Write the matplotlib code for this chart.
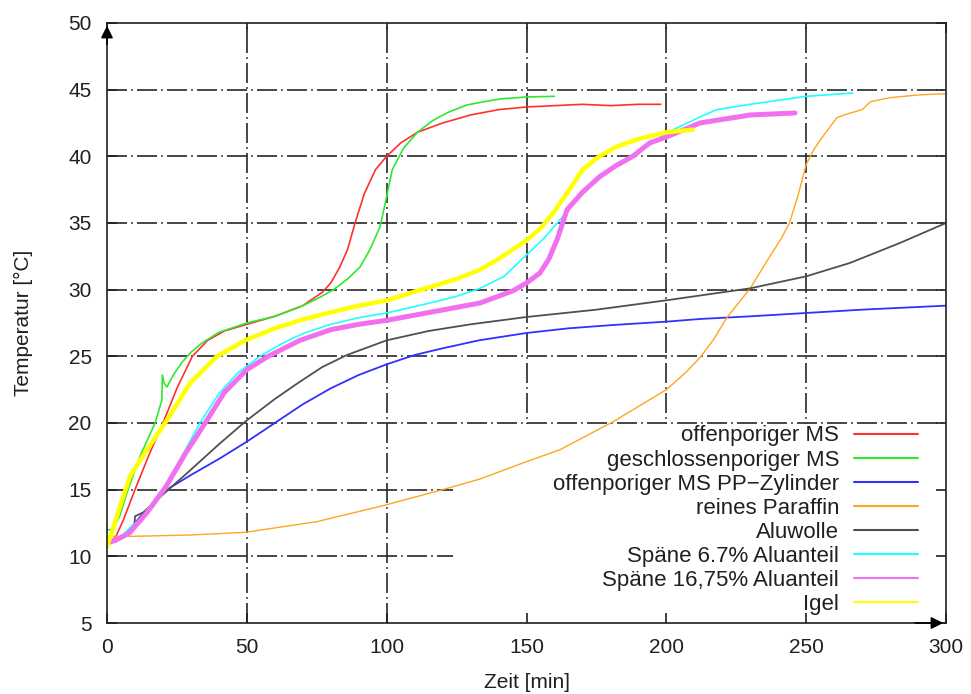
import matplotlib
matplotlib.use("Agg")
import matplotlib.pyplot as plt
from matplotlib.patches import Rectangle

plt.rcParams['font.family'] = ['Liberation Sans', 'DejaVu Sans']

# --- data (time in min, temperature in deg C) ---
labels = ["offenporiger MS", "geschlossenporiger MS", "offenporiger MS PP\u2212Zylinder",
          "reines Paraffin", "Aluwolle", "Späne 6.7% Aluanteil",
          "Späne 16,75% Aluanteil", "Igel"]

t_offen = [0, 3, 6, 10, 15, 20, 25, 30.5, 36, 42, 50, 60, 70, 77, 80, 83, 86, 88.7, 92, 96,
           100, 105, 111, 120, 130, 140, 150, 160, 170, 180, 190, 198]
T_offen = [11.0, 11.4, 12.8, 15.0, 17.6, 20.0, 22.6, 25.0, 26.2, 26.9, 27.4, 28.0, 28.8,
           29.8, 30.5, 31.6, 33.0, 35.0, 37.2, 39.0, 40.0, 41.0, 41.8, 42.5, 43.1, 43.5, 43.7,
           43.8, 43.9, 43.8, 43.9, 43.9]

t_geschl = [0, 2, 4.5, 7.5, 12, 17.2, 19.6, 19.8, 20.4, 21.4, 24, 27, 30, 34, 40, 50, 60,
            69, 75, 81, 86, 90.5, 94, 97.6, 99.4, 102, 106, 111, 116.6, 122, 128.6, 135,
            140.5, 150, 160]
T_geschl = [12.0, 12.0, 13.0, 15.0, 17.6, 20.0, 21.7, 23.6, 23.0, 22.7, 23.7, 24.6, 25.3,
            26.0, 26.8, 27.5, 28.0, 28.7, 29.3, 30.0, 30.8, 31.7, 33.0, 34.7, 36.4, 39.0,
            40.6, 41.8, 42.7, 43.3, 43.85, 44.1, 44.3, 44.45, 44.5]

t_pp = [0, 3, 7, 12, 21.4, 30, 40, 50, 60, 70, 80, 90, 100, 110, 120, 133, 150,
        165, 181, 200, 212, 230, 250, 270, 300]
T_pp = [11.0, 11.1, 11.75, 13.0, 15.0, 16.1, 17.3, 18.6, 20.0, 21.4, 22.6, 23.6, 24.4,
        25.1, 25.6, 26.2, 26.75, 27.1, 27.35, 27.6, 27.8, 28.0, 28.25, 28.5, 28.8]

t_paraffin = [0, 9.3, 30, 49.4, 75, 98.7, 120, 133.4, 150, 162, 181, 200, 207, 212, 217,
              221.6, 230, 237, 241, 244, 247, 250, 253, 256, 261, 265, 270, 273, 280, 290, 300]
T_paraffin = [11.5, 11.5, 11.6, 11.8, 12.6, 13.8, 15.0, 15.8, 17.1, 18.0, 20.1, 22.5, 23.8,
              24.9, 26.3, 27.9, 30.1, 32.5, 33.8, 35.0, 37.0, 39.4, 40.6, 41.5, 42.9, 43.2,
              43.5, 44.1, 44.4, 44.6, 44.7]

t_alu = [0, 5, 9.8, 10, 13, 19, 30, 40, 49.4, 60, 69, 77, 85.8, 100, 115, 130, 150, 175,
         200, 230, 250, 265.6, 283.5, 300]
T_alu = [11.0, 11.3, 12.3, 13.0, 13.3, 14.45, 16.5, 18.4, 20.1, 21.8, 23.1, 24.2, 25.1,
         26.2, 26.9, 27.4, 27.95, 28.5, 29.2, 30.1, 31.0, 32.0, 33.5, 35.0]

t_sp67 = [0, 4, 9, 14, 20, 26, 33.2, 40, 47, 54.7, 62, 70, 80, 90, 100, 115.5, 125, 133.4,
          142, 150, 156, 161, 170, 180, 188, 200, 212, 218, 230, 250, 266.7]
T_sp67 = [11.0, 11.3, 12.3, 13.2, 15.0, 17.2, 20.0, 22.2, 23.8, 25.0, 25.9, 26.7, 27.4,
          27.9, 28.25, 29.0, 29.5, 30.1, 31.0, 32.6, 33.8, 35.0, 37.25, 39.0, 40.0, 41.75,
          42.95, 43.5, 43.9, 44.5, 44.75]

t_sp1675 = [0, 3, 8, 14, 21, 28, 35.7, 42, 50, 57.6, 69, 80, 90, 100, 115.5, 133.4, 145,
            150, 154.8, 158, 161, 164.5, 170, 176, 182, 188, 194, 200, 212, 230, 246]
T_sp1675 = [11.0, 11.2, 11.75, 13.2, 15.2, 17.7, 20.2, 22.3, 24.0, 25.0, 26.2, 27.0, 27.4,
            27.7, 28.3, 29.0, 29.9, 30.5, 31.25, 32.3, 33.8, 36.0, 37.3, 38.45, 39.3, 40.0,
            41.0, 41.45, 42.5, 43.1, 43.25]

t_igel = [0, 2, 4.6, 8.2, 14.3, 21.4, 29.7, 39.3, 49.4, 60, 69, 80, 90, 100, 115.5, 125,
          133.4, 140, 145, 150, 155, 159.5, 165, 170, 176, 182, 190, 200, 209.5]
T_igel = [10.7, 12.0, 13.7, 16.0, 18.0, 20.2, 23.0, 25.0, 26.2, 27.1, 27.7, 28.3, 28.8,
          29.2, 30.2, 30.8, 31.5, 32.3, 33.0, 33.7, 34.6, 35.75, 37.4, 39.0, 40.0, 40.7,
          41.3, 41.8, 42.0]

xticks = [0, 50, 100, 150, 200, 250, 300]
yticks = [5, 10, 15, 20, 25, 30, 35, 40, 45, 50]

series = [(t_offen, T_offen), (t_geschl, T_geschl), (t_pp, T_pp), (t_paraffin, T_paraffin),
          (t_alu, T_alu), (t_sp67, T_sp67), (t_sp1675, T_sp1675), (t_igel, T_igel)]
colors = ['#ff3030', '#30e830', '#3030ff', '#ffa520', '#505050', '#20ffff', '#f070f0', '#ffff00']
widths = [1.2, 1.2, 1.3, 1.0, 1.3, 1.2, 3.6, 3.2]

fig = plt.figure(figsize=(9.71, 6.94), dpi=100)
ax = fig.add_axes([0.1102, 0.1023, 0.8641, 0.8646])

# grid (dash-dot), drawn by hand so the key box can hide part of it
grid_style = dict(color='#282828', lw=1.2, linestyle=(0, (12, 2.5, 1, 2.5)), zorder=0.8)
for y in yticks[1:-1]:
    ax.axhline(y, **grid_style)
for x in xticks[1:-1]:
    ax.axvline(x, **grid_style)

# white area behind the key
ax.add_patch(Rectangle((0.4124, 0.0), 0.5876, 0.332, transform=ax.transAxes,
                       facecolor='white', edgecolor='none', zorder=1))

for (t, T), c, w, lab in zip(series, colors, widths, labels):
    ax.plot(t, T, color=c, lw=w, label=lab, zorder=2, solid_capstyle='round',
            solid_joinstyle='round')

ax.set_xlim(0, 300)
ax.set_ylim(5, 50)
ax.set_xticks(xticks)
ax.set_yticks(yticks)
ax.tick_params(direction='in', top=True, right=True, length=7, width=1.2,
               labelsize=15, pad=11, colors='#202020')
for s in ax.spines.values():
    s.set_color('#202020')
    s.set_linewidth(1.2)

# arrow heads on the axes
ax.annotate('', xy=(0, 1), xytext=(0, 0.96), xycoords='axes fraction',
            arrowprops=dict(arrowstyle='-|>', color='black', lw=1.2, mutation_scale=18))
ax.annotate('', xy=(1, 0), xytext=(0.96, 0), xycoords='axes fraction',
            arrowprops=dict(arrowstyle='-|>', color='black', lw=1.2, mutation_scale=18))

ax.set_xlabel('Zeit [min]', fontsize=15, color='#202020')
ax.set_ylabel('Temperatur [°C]', fontsize=15, color='#202020')
ax.xaxis.set_label_coords(0.5, -0.083)
ax.yaxis.set_label_coords(-0.088, 0.5)

leg = ax.legend(loc='lower right', bbox_to_anchor=(0.9666, 0.013), frameon=False,
                markerfirst=False, fontsize=16, handlelength=2.9, handletextpad=0.65,
                labelspacing=0.14, borderpad=0, borderaxespad=0)
for h in leg.get_lines():
    h.set_linewidth(1.5)
for txt in leg.get_texts():
    txt.set_color('#202020')

fig.savefig('out.png', dpi=100)
